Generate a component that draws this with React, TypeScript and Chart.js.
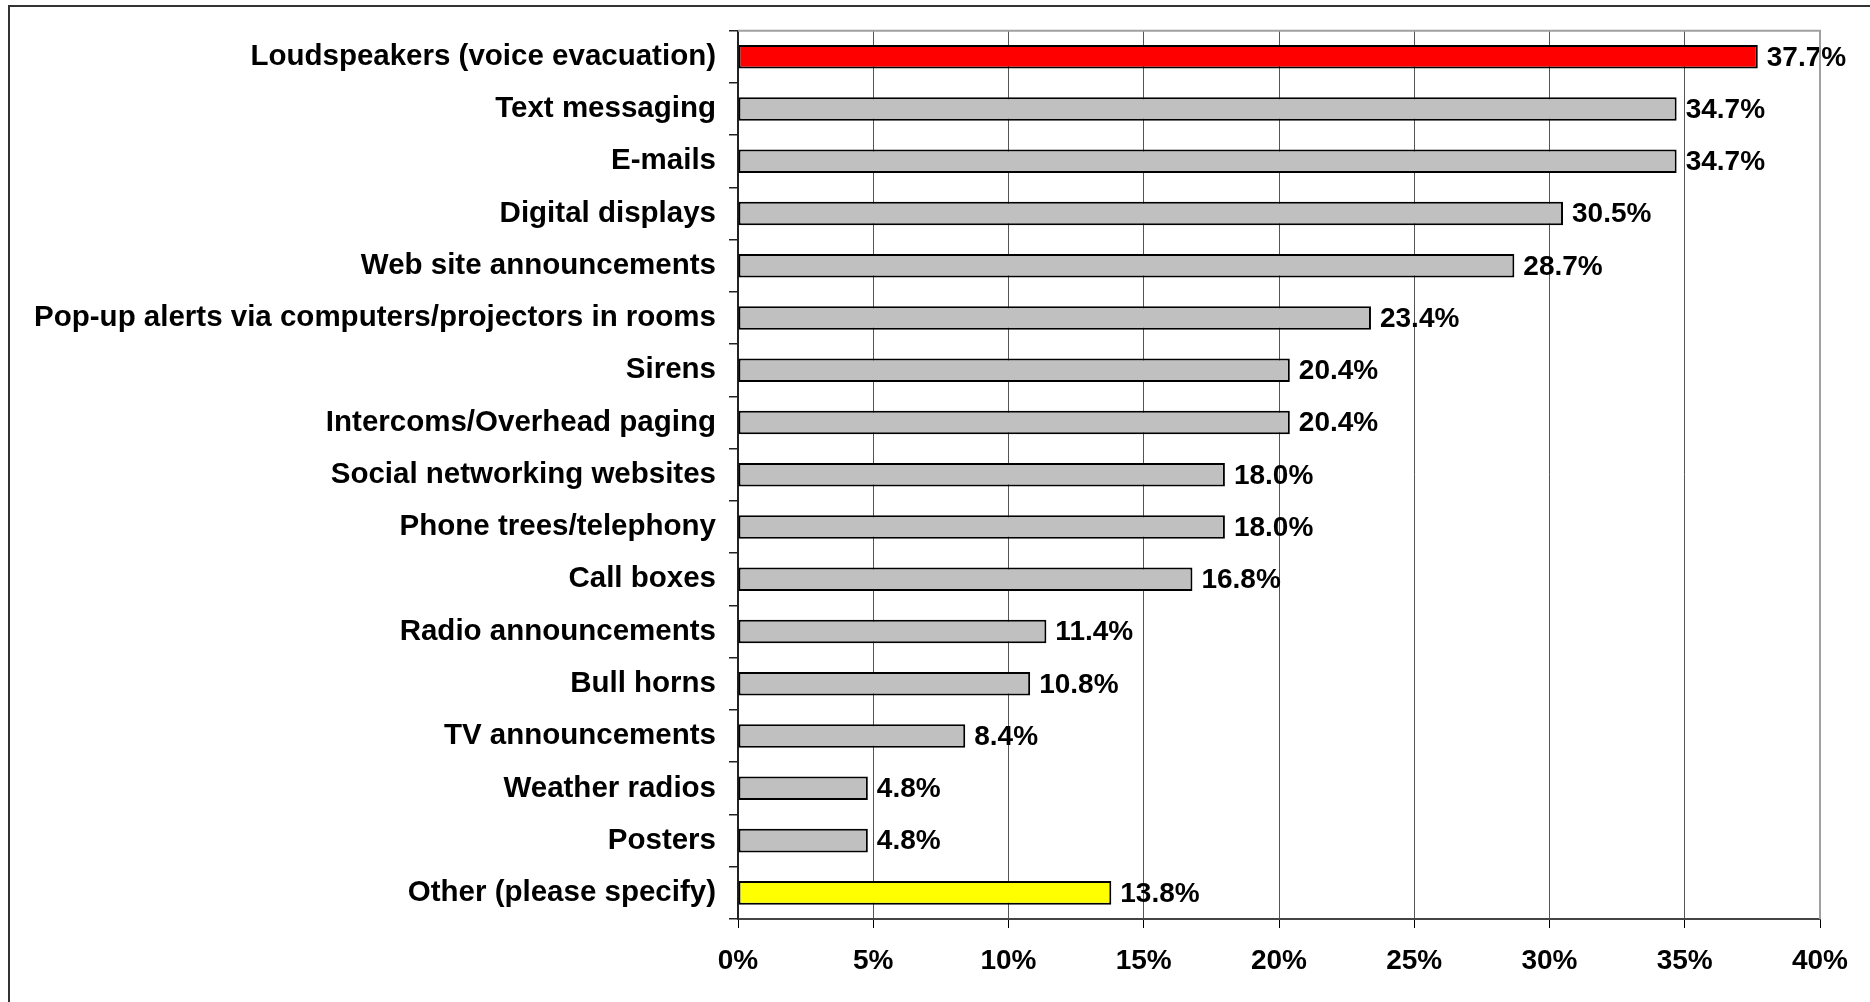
import React, { useEffect, useRef } from "react";
import { Chart, registerables } from "chart.js";

Chart.register(...registerables);

const categories: string[] = [
  "Loudspeakers (voice evacuation)",
  "Text messaging",
  "E-mails",
  "Digital displays",
  "Web site announcements",
  "Pop-up alerts via computers/projectors in rooms",
  "Sirens",
  "Intercoms/Overhead paging",
  "Social networking websites",
  "Phone trees/telephony",
  "Call boxes",
  "Radio announcements",
  "Bull horns",
  "TV announcements",
  "Weather radios",
  "Posters",
  "Other (please specify)",
];

const values: number[] = [37.7, 34.7, 34.7, 30.5, 28.7, 23.4, 20.4, 20.4, 18.0, 18.0, 16.8, 11.4, 10.8, 8.4, 4.8, 4.8, 13.8];

const barColors: string[] = [
  "#FF0000", "#C0C0C0", "#C0C0C0", "#C0C0C0", "#C0C0C0", "#C0C0C0", "#C0C0C0", "#C0C0C0",
  "#C0C0C0", "#C0C0C0", "#C0C0C0", "#C0C0C0", "#C0C0C0", "#C0C0C0", "#C0C0C0", "#C0C0C0", "#FFFF00",
];

const xMin = 0;
const xMax = 40;
const xStep = 5;

const FONT = "'Liberation Sans', Arial, Helvetica, sans-serif";

const framePlugin = {
  id: "frame",
  beforeDraw(chart: any) {
    const ctx = chart.ctx;
    ctx.save();
    ctx.fillStyle = "#FFFFFF";
    ctx.fillRect(0, 0, chart.width, chart.height);
    ctx.strokeStyle = "#333333";
    ctx.lineWidth = 2;
    ctx.beginPath();
    ctx.moveTo(9, chart.height + 5);
    ctx.lineTo(9, 6);
    ctx.lineTo(chart.width + 5, 6);
    ctx.stroke();
    ctx.restore();
  },
  afterDraw(chart: any) {
    const { left, right, top, bottom } = chart.chartArea;
    const ctx = chart.ctx;
    ctx.save();
    ctx.strokeStyle = "#A0A0A0";
    ctx.lineWidth = 2;
    ctx.beginPath();
    ctx.moveTo(left, top);
    ctx.lineTo(right, top);
    ctx.lineTo(right, bottom);
    ctx.stroke();
    ctx.restore();
  },
};

const labelPlugin = {
  id: "barLabels",
  afterDatasetsDraw(chart: any) {
    const ctx = chart.ctx;
    const meta = chart.getDatasetMeta(0);
    ctx.save();
    ctx.font = `bold 28px ${FONT}`;
    ctx.fillStyle = "#000000";
    ctx.textAlign = "left";
    ctx.textBaseline = "middle";
    meta.data.forEach((bar: any, i: number) => {
      ctx.fillText(values[i].toFixed(1) + "%", bar.x + 9, bar.y + 1);
    });
    ctx.restore();
  },
};

export default function App() {
  const ref = useRef<HTMLCanvasElement | null>(null);

  useEffect(() => {
    if (!ref.current) return;
    const chart = new Chart(ref.current, {
      type: "bar",
      data: {
        labels: categories,
        datasets: [
          {
            data: values,
            backgroundColor: barColors,
            borderColor: "#000000",
            borderWidth: 2,
            borderSkipped: false,
            categoryPercentage: 1,
            barPercentage: 0.45,
          },
        ],
      },
      options: {
        indexAxis: "y",
        responsive: false,
        animation: false,
        layout: { padding: { left: 0, right: 50, top: 28, bottom: 0 } },
        plugins: {
          legend: { display: false },
          tooltip: { enabled: false },
          title: { display: false },
        },
        scales: {
          x: {
            type: "linear",
            min: xMin,
            max: xMax,
            ticks: {
              stepSize: xStep,
              callback: (v: any) => v + "%",
              color: "#000000",
              font: { family: FONT, size: 28, weight: "bold" },
              padding: 16,
              maxRotation: 0,
            },
            grid: {
              color: "#555555",
              lineWidth: 1,
              tickColor: "#000000",
              tickLength: 9,
              drawTicks: true,
            },
            border: { display: true, color: "#444444", width: 2 },
            afterFit: (scale: any) => {
              scale.height = 83;
            },
          },
          y: {
            type: "category",
            offset: true,
            ticks: {
              color: "#000000",
              font: { family: FONT, size: 29.5, weight: "bold" },
              padding: 13,
              autoSkip: false,
            },
            grid: {
              display: true,
              offset: true,
              drawOnChartArea: false,
              drawTicks: true,
              tickLength: 9,
              tickColor: "#222222",
              lineWidth: 1.5,
            },
            border: { display: true, color: "#222222", width: 2 },
            afterFit: (scale: any) => {
              scale.width = 738;
            },
          },
        },
      },
      plugins: [framePlugin, labelPlugin],
    } as any);
    return () => chart.destroy();
  }, []);

  return (
    <div style={{ position: "absolute", left: 0, top: 0, width: 1870, height: 1002, overflow: "hidden" }}>
      <canvas ref={ref} width={1870} height={1002} style={{ display: "block" }} />
    </div>
  );
}
